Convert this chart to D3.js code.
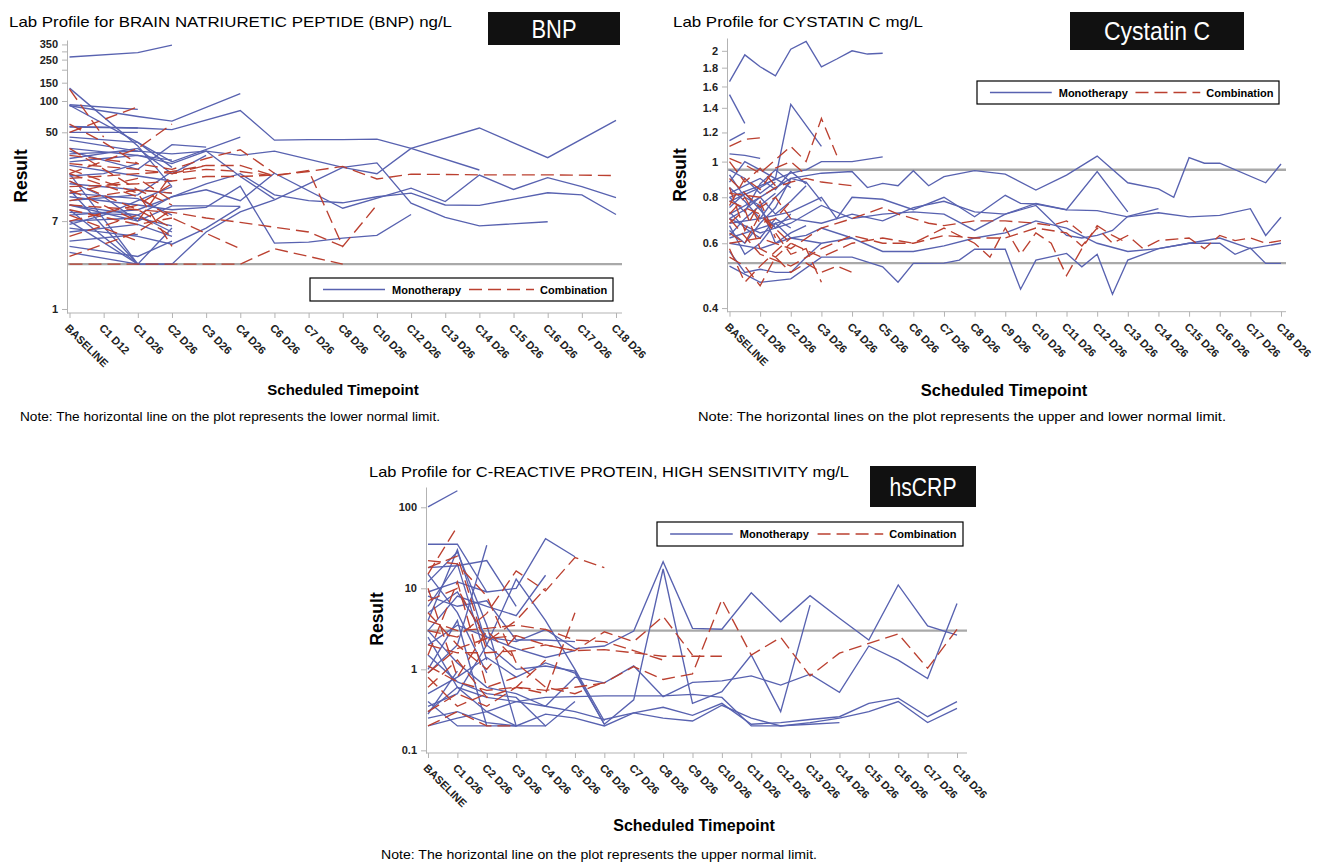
<!DOCTYPE html>
<meta charset="utf-8">
<style>
    body { margin: 0; background: #fff; }
    text { font-family: "Liberation Sans", Arial, sans-serif; }
</style>
<body>
<script src="https://cdn.jsdelivr.net/npm/d3@7/dist/d3.min.js"></script>
<script>

    // ---------- BNP ----------
    var bnpCats = ["BASELINE", "C1 D12", "C1 D26", "C2 D26", "C3 D26", "C4 D26", "C6 D26", "C7 D26", "C8 D26",
        "C10 D26", "C12 D26", "C13 D26", "C14 D26", "C15 D26", "C16 D26", "C17 D26", "C18 D26"];
    var bnpTicks = [1, 7, 50, 100, 150, 200, 250, 300, 350];
    var bnpTickText = ["1", "7", "50", "100", "150", "", "250", "", "350"];
    var bnpLimits = [2.7];

    // each subject: [timepoint index, value]
    var bnpMono = [
        [[0, 265], [2, 292], [3, 345]],
        [[0, 90], [2, 71], [3, 64], [5, 118]],
        [[0, 57], [2, 55], [3, 53], [5, 81], [6, 42], [7, 42.5], [8, 42.5], [9, 43], [10, 35], [12, 21.7]],
        [[0, 31], [2, 33], [3, 31], [4, 33], [5, 30], [6, 33], [8, 23], [9, 20], [10, 35], [12, 55], [14, 28.5], [16, 65]],
        [[0, 92], [2, 83]],
        [[0, 133], [2, 37], [3, 15]],
        [[0, 91], [2, 40], [3, 23]],
        [[0, 56], [2, 55]],
        [[0, 45], [2, 40], [3, 26], [5, 45]],
        [[0, 28], [2, 35], [3, 20], [4, 30]],
        [[0, 7], [2, 2.7], [3, 2.7], [4, 5.5], [5, 8.6], [6, 11.2], [7, 16], [8, 23], [9, 25.4], [10, 10.4], [11, 7.6], [12, 6.3], [14, 6.9]],
        [[0, 12], [2, 10], [3, 9], [4, 9.5], [5, 15.2], [6, 4.3], [7, 4.4], [8, 4.8], [9, 5.1], [10, 8.1]],
        [[0, 10], [2, 8], [3, 12], [4, 14], [5, 11], [6, 20.2], [8, 9.3], [10, 14.5], [11, 10.8], [12, 19.4], [13, 14.1], [14, 18.3], [15, 15], [16, 11.8]],
        [[0, 8], [2, 9], [3, 12], [4, 16], [5, 20], [6, 12.5], [7, 11], [8, 10.5], [9, 12], [10, 13], [11, 10], [12, 9.9], [14, 13.1], [15, 12.5], [16, 8.1]],
        [[0, 35], [2, 30], [3, 25], [4, 33], [5, 18.8], [6, 11.4]],
        [[0, 6], [2, 5], [3, 4.2], [4, 6], [5, 9.6]],
        [[0, 14], [2, 2.7], [3, 2.7]],
        [[0, 20], [2, 2.7]],
        [[0, 9], [2, 2.7], [3, 6]],
        [[0, 10], [2, 7], [3, 9.8], [4, 9.8], [5, 9.7]],
        [[0, 7], [2, 7.5], [3, 6.3]],
        [[0, 5.5], [2, 6.5], [3, 5]],
        [[0, 4.5], [2, 5.2]],
        [[0, 3.5], [2, 2.7]],
        [[0, 24], [2, 19], [3, 17]],
        [[0, 16], [2, 14], [3, 13]],
        [[0, 13], [2, 11.5], [3, 8]],
        [[0, 11], [2, 12.5], [3, 21]],
        [[0, 8.5], [2, 8], [3, 5.5]],
        [[0, 26], [1, 28], [2, 30], [3, 27]],
        [[0, 19], [1, 20], [2, 25]],
        [[0, 50], [2, 50]],
        [[0, 42], [2, 33]],
        [[0, 6.5], [1, 8], [2, 11], [3, 15]],
        [[0, 17], [1, 12], [2, 7]],
        [[0, 4], [2, 3.2], [3, 4.5]],
        [[0, 33], [2, 22], [3, 38], [4, 36]]
    ];
    var bnpCombo = [
        [[0, 15], [2, 16], [3, 17], [4, 18.8], [5, 18.8], [6, 19.4], [7, 21], [8, 23.5], [9, 17.8], [10, 19.8], [12, 19.5], [14, 19.5], [16, 19.2]],
        [[0, 25], [2, 22], [3, 20], [4, 22], [5, 21], [6, 19], [7, 21.5], [8, 4.0], [9, 10]],
        [[0, 10], [2, 9], [3, 8.5], [4, 7.5], [5, 6.8], [7, 5.5], [8, 4.0]],
        [[0, 2.7], [2, 2.7], [3, 2.7], [4, 2.7], [5, 2.7], [6, 3.8], [8, 2.7]],
        [[0, 20], [2, 12], [3, 7.5], [5, 3.8]],
        [[0, 30], [2, 25], [3, 22], [4, 28], [5, 34], [6, 20.2]],
        [[0, 18], [2, 20], [3, 21], [4, 24], [5, 24], [6, 19]],
        [[0, 50], [2, 88]],
        [[0, 20], [2, 35], [3, 60]],
        [[0, 130], [1, 45]],
        [[0, 11], [2, 14], [3, 13]],
        [[0, 17], [2, 9], [3, 6]],
        [[0, 22], [2, 13], [3, 4]],
        [[0, 9], [2, 6.5], [3, 7.5]],
        [[0, 13], [2, 18], [3, 11]],
        [[0, 7], [2, 10], [3, 16]],
        [[0, 5], [2, 8], [3, 5]],
        [[0, 3.2], [2, 5.5], [3, 9]],
        [[0, 35], [2, 14], [3, 10]],
        [[0, 14], [2, 7], [3, 20], [4, 24]],
        [[0, 60], [1, 40], [2, 25]],
        [[0, 8], [1, 6], [2, 4.5]]
    ];

    // ---------- Cystatin C ----------
    var cysCats = ["BASELINE", "C1 D12", "C1 D26", "C2 D12", "C2 D26", "C3 D12", "C3 D26", "C4 D12", "C4 D26",
        "C5 D12", "C5 D26", "C6 D12", "C6 D26", "C7 D12", "C7 D26", "C8 D12", "C8 D26", "C9 D12", "C9 D26",
        "C10 D12", "C10 D26", "C11 D12", "C11 D26", "C12 D12", "C12 D26", "C13 D12", "C13 D26", "C14 D12", "C14 D26",
        "C15 D12", "C15 D26", "C16 D12", "C16 D26", "C17 D12", "C17 D26", "C18 D12", "C18 D26"];
    var cysLabels = ["BASELINE", "C1 D26", "C2 D26", "C3 D26", "C4 D26", "C5 D26", "C6 D26", "C7 D26", "C8 D26", "C9 D26",
        "C10 D26", "C11 D26", "C12 D26", "C13 D26", "C14 D26", "C15 D26", "C16 D26", "C17 D26", "C18 D26"];
    var cysTicks = [0.4, 0.6, 0.8, 1, 1.2, 1.4, 1.6, 1.8, 2];
    var cysTickText = ["0.4", "0.6", "0.8", "1", "1.2", "1.4", "1.6", "1.8", "2"];
    var cysLimits = [0.95, 0.53];

    var cysMono = [
        [[0, 1.65], [1, 1.95], [2, 1.81], [3, 1.71], [4, 2.02], [5, 2.12], [6, 1.81], [7, 1.9], [8, 2.0], [9, 1.96], [10, 1.97]],
        [[0, 1.52], [1, 1.27]],
        [[0, 1.14], [1, 1.2]],
        [[0, 0.78], [2, 0.85], [3, 0.9], [4, 1.43], [6, 1.1]],
        [[0, 0.8], [2, 0.86], [4, 0.93], [5, 0.95], [6, 1.0], [8, 1.0], [10, 1.03]],
        [[0, 0.72], [2, 0.8], [4, 0.9], [6, 0.93], [8, 0.94], [9, 0.85], [10, 0.873], [11, 0.86], [12, 0.945], [13, 0.86], [14, 0.91], [16, 0.945], [18, 0.925], [20, 0.837], [22, 0.919], [24, 1.035], [26, 0.876], [28, 0.843], [29, 0.8], [30, 1.025], [31, 0.99], [32, 0.99], [35, 0.876], [36, 0.985]],
        [[0, 0.68], [2, 0.7], [4, 0.73], [6, 0.8], [7, 0.7], [8, 0.8], [10, 0.79], [12, 0.74], [14, 0.8], [16, 0.708], [18, 0.81], [19, 0.77], [20, 0.767], [22, 0.739], [24, 0.736], [26, 0.708], [28, 0.726], [30, 0.708], [32, 0.714], [34, 0.745], [35, 0.63], [36, 0.706]],
        [[0, 0.62], [2, 0.66], [4, 0.7], [6, 0.68], [8, 0.72], [10, 0.69], [12, 0.75], [14, 0.78], [16, 0.73], [18, 0.72], [20, 0.76], [22, 0.63], [23, 0.62], [24, 0.63], [25, 0.65], [26, 0.71], [28, 0.745]],
        [[0, 0.7], [2, 0.64], [4, 0.68], [6, 0.76], [8, 0.7], [10, 0.72], [12, 0.73], [14, 0.72], [16, 0.65], [18, 0.72], [20, 0.77], [22, 0.74], [24, 0.94], [26, 0.73]],
        [[0, 0.52], [2, 0.47], [4, 0.48], [6, 0.55], [8, 0.55], [10, 0.518], [11, 0.47], [12, 0.529], [14, 0.53], [15, 0.54], [16, 0.578], [18, 0.578], [19, 0.45], [20, 0.54], [22, 0.563], [23, 0.518], [24, 0.56], [25, 0.436], [26, 0.54], [28, 0.58], [30, 0.6], [32, 0.6], [33, 0.56], [34, 0.582], [35, 0.529], [36, 0.529]],
        [[0, 0.6], [2, 0.58], [4, 0.62], [6, 0.6], [8, 0.62], [10, 0.57], [12, 0.57], [14, 0.59], [16, 0.62], [18, 0.64], [20, 0.69], [22, 0.66], [24, 0.6], [26, 0.57], [28, 0.58], [30, 0.6], [32, 0.62], [34, 0.58], [36, 0.6]],
        [[0, 0.95], [1, 0.9], [2, 0.82], [3, 0.88]],
        [[0, 0.85], [1, 0.78], [2, 0.7], [3, 0.8], [4, 0.88]],
        [[0, 0.75], [1, 0.82], [2, 0.74], [3, 0.66], [4, 0.72]],
        [[0, 0.65], [1, 0.6], [2, 0.68], [3, 0.75], [4, 0.9], [5, 0.88], [6, 0.78]],
        [[0, 0.88], [1, 1.0], [2, 0.95], [4, 0.85]],
        [[0, 0.57], [1, 0.5], [2, 0.51], [3, 0.5], [4, 0.5], [5, 0.55], [6, 0.6]],
        [[0, 0.7], [1, 0.74], [2, 0.8], [3, 0.72], [4, 0.78], [5, 0.86]],
        [[0, 0.82], [1, 0.86], [2, 0.9], [3, 0.84], [4, 0.94], [5, 0.87]],
        [[0, 0.73], [1, 0.66], [2, 0.62], [3, 0.7], [4, 0.66]],
        [[0, 0.92], [1, 0.8], [2, 0.76], [3, 0.82]],
        [[0, 0.63], [1, 0.7], [2, 0.76], [3, 0.6], [4, 0.64], [5, 0.67]],
        [[0, 1.05], [1, 1.04], [2, 1.02]],
        [[0, 0.8], [1, 0.73], [2, 0.87], [3, 0.95], [4, 0.88]],
        [[0, 0.67], [1, 0.56], [2, 0.6], [3, 0.68], [4, 0.62], [5, 0.63], [6, 0.66], [8, 0.62]]
    ];
    var cysCombo = [
        [[0, 1.02], [1, 0.98], [2, 0.93], [4, 1.1], [5, 1.0], [6, 1.31], [7, 1.04]],
        [[0, 1.1], [1, 1.15], [2, 1.16]],
        [[0, 0.82], [2, 0.8], [3, 0.85], [4, 0.88], [5, 0.9], [6, 0.88], [8, 0.86]],
        [[0, 0.6], [2, 0.62], [4, 0.58], [6, 0.66], [8, 0.7], [10, 0.75], [11, 0.72], [12, 0.7], [13, 0.68], [14, 0.67], [16, 0.69], [18, 0.69], [20, 0.68], [21, 0.67], [22, 0.69], [23, 0.64]],
        [[0, 0.7], [2, 0.56], [4, 0.52], [6, 0.58], [8, 0.63], [10, 0.6], [12, 0.6], [14, 0.63], [16, 0.62], [18, 0.62], [20, 0.66], [22, 0.64], [23, 0.59], [24, 0.66], [25, 0.6], [26, 0.63], [27, 0.58], [28, 0.61], [30, 0.62], [31, 0.58], [32, 0.63], [33, 0.61], [34, 0.62], [35, 0.6], [36, 0.61]],
        [[0, 0.78], [2, 0.72], [4, 0.6], [6, 0.55], [8, 0.6], [10, 0.62], [12, 0.6], [14, 0.66], [16, 0.6], [17, 0.55], [18, 0.66], [19, 0.56], [20, 0.64], [21, 0.6], [22, 0.49], [23, 0.58], [24, 0.67], [25, 0.63], [26, 0.6]],
        [[0, 0.9], [1, 0.82], [2, 0.75], [3, 0.8], [4, 0.7]],
        [[0, 0.85], [1, 0.65], [2, 0.78], [3, 0.62]],
        [[0, 0.68], [1, 0.74], [2, 0.58], [3, 0.55], [4, 0.6]],
        [[0, 0.58], [1, 0.47], [2, 0.52], [3, 0.57], [4, 0.62]],
        [[0, 0.76], [1, 0.9], [2, 0.84], [3, 0.96], [4, 1.0], [5, 0.92]],
        [[0, 0.55], [1, 0.52], [2, 0.46], [3, 0.55], [4, 0.5], [5, 0.53], [6, 0.5], [7, 0.52], [8, 0.5]],
        [[0, 0.72], [1, 0.8], [2, 0.68], [3, 0.7], [4, 0.78]],
        [[0, 0.64], [1, 0.6], [2, 0.72], [3, 0.64], [4, 0.56], [5, 0.58], [6, 0.47]],
        [[0, 1.0], [1, 0.88], [2, 0.96], [3, 0.86]]
    ];

    // ---------- hsCRP ----------
    var crpCats = ["BASELINE", "C1 D26", "C2 D26", "C3 D26", "C4 D26", "C5 D26", "C6 D26", "C7 D26", "C8 D26", "C9 D26",
        "C10 D26", "C11 D26", "C12 D26", "C13 D26", "C14 D26", "C15 D26", "C16 D26", "C17 D26", "C18 D26"];
    var crpTicks = [0.1, 1, 10, 100];
    var crpTickText = ["0.1", "1", "10", "100"];
    var crpLimits = [3];

    var crpMono = [
        [[0, 101], [1, 160]],
        [[0, 2], [1, 3.5], [2, 2.5], [3, 2.2], [4, 3.1], [5, 1.8], [6, 1.94], [7, 2.97], [8, 21.3], [9, 3.2], [10, 3.12], [11, 8.8], [12, 3.87], [13, 8.1], [14, 4.26], [15, 2.3], [16, 11], [17, 3.43], [18, 2.65]],
        [[0, 0.5], [1, 0.8], [2, 1.4], [3, 0.8], [4, 1.2], [5, 0.9], [6, 0.21], [7, 0.42], [8, 17.3], [9, 0.38], [10, 0.53], [11, 1.5], [12, 0.3], [13, 6.2]],
        [[0, 0.2], [1, 0.25], [2, 0.3], [3, 0.4], [4, 0.45], [5, 0.46], [6, 0.47], [7, 0.47], [8, 0.47], [9, 0.49], [10, 0.45], [11, 0.2], [12, 0.2], [13, 0.21], [14, 0.22]],
        [[0, 3], [1, 1.2], [2, 0.6], [3, 0.5], [4, 0.35], [5, 0.8], [6, 0.68], [7, 1.1], [8, 0.46], [9, 0.69], [10, 0.72], [11, 0.83], [12, 0.64], [13, 0.87], [14, 0.52], [15, 1.94], [16, 1.3], [17, 0.77], [18, 6.5]],
        [[0, 0.3], [1, 0.6], [2, 0.45], [3, 0.4], [4, 0.35], [5, 0.3], [6, 0.24], [7, 0.29], [8, 0.34], [9, 0.27], [10, 0.38], [11, 0.21], [12, 0.22], [13, 0.24], [14, 0.26], [15, 0.38], [16, 0.44], [17, 0.26], [18, 0.4]],
        [[0, 0.25], [1, 0.3], [2, 0.22], [3, 0.2], [4, 0.28], [5, 0.25], [6, 0.2], [7, 0.29], [8, 0.25], [9, 0.23], [10, 0.36], [11, 0.25], [12, 0.2], [13, 0.22], [14, 0.25], [15, 0.3], [16, 0.4], [17, 0.22], [18, 0.33]],
        [[0, 9], [1, 12], [2, 9], [3, 10], [4, 41], [5, 24.5]],
        [[0, 3], [1, 8], [2, 6], [3, 4.6], [4, 14.5]],
        [[0, 35], [1, 35], [2, 9]],
        [[0, 18], [1, 19], [2, 22], [3, 6]],
        [[0, 12], [1, 28], [2, 3.5], [3, 0.2], [4, 0.2]],
        [[0, 4], [1, 30], [2, 2], [3, 13], [4, 4], [5, 1.0], [6, 0.23]],
        [[0, 0.9], [1, 2], [2, 34]],
        [[0, 8], [1, 6], [2, 7], [3, 2.3], [4, 2.3], [5, 2.2]],
        [[0, 1.5], [1, 0.7], [2, 0.5], [3, 0.45], [4, 0.2], [5, 0.4]],
        [[0, 0.35], [1, 0.5], [2, 2.0], [3, 1.0], [4, 1.1], [5, 0.95], [6, 0.21]],
        [[0, 5], [1, 9], [2, 2.5], [3, 1.8], [4, 1.4], [5, 1.7]],
        [[0, 2.5], [1, 0.6], [2, 0.3], [3, 0.2]],
        [[0, 1], [1, 4], [2, 0.2]],
        [[0, 0.4], [1, 0.2], [2, 0.2], [3, 0.2]],
        [[0, 0.28], [1, 0.95]],
        [[0, 15], [1, 5], [2, 0.9]],
        [[0, 6], [1, 20], [2, 1.3]]
    ];
    var crpCombo = [
        [[0, 15], [1, 58]],
        [[0, 3], [1, 2.5], [2, 4.9], [3, 16.4], [4, 9.3], [5, 24], [6, 18]],
        [[0, 1.1], [1, 0.7], [2, 0.55], [3, 0.6], [4, 0.55], [5, 0.6], [6, 0.68], [7, 1.08], [8, 0.75], [9, 0.88], [10, 7.3], [11, 1.5], [12, 2.48], [13, 0.83], [14, 1.58], [15, 2.09], [16, 2.73], [17, 1.03], [18, 3.12]],
        [[0, 0.9], [1, 1.8], [2, 2.4], [3, 2.6], [4, 2.0], [5, 1.7], [6, 2.9], [7, 2.2], [8, 4.5], [9, 1.5]],
        [[0, 2], [1, 1.6], [2, 1.6], [3, 1.7], [4, 2.0], [5, 1.7], [6, 1.75], [7, 1.6], [8, 1.45], [9, 1.45], [10, 1.45]],
        [[0, 4], [1, 3], [2, 3.2], [3, 3.5], [4, 3.1], [5, 2.3], [6, 2.2], [7, 1.7], [8, 1.3]],
        [[0, 0.3], [1, 0.5], [2, 0.35], [3, 0.6], [4, 0.5], [5, 5]],
        [[0, 7], [1, 10], [2, 2.2], [3, 4], [4, 10]],
        [[0, 22], [1, 20], [2, 8], [3, 1.2], [4, 0.6], [5, 0.5], [6, 0.7]],
        [[0, 0.2], [1, 0.3], [2, 0.2], [3, 0.2]],
        [[0, 1.5], [1, 12], [2, 0.6], [3, 0.8]],
        [[0, 10], [1, 0.8], [2, 3], [3, 1.3]],
        [[0, 18], [1, 25], [2, 1.7]],
        [[0, 0.6], [1, 1.3], [2, 0.45], [3, 0.6], [4, 1.3]],
        [[0, 5], [1, 2], [2, 1.0], [3, 2.6]],
        [[0, 0.8], [1, 0.35], [2, 0.5]]
    ];

    var blue = "#5862b0", red = "#bb4030", gridGray = "#a9a9a9", axisGray = "#b3b3b3";
    var dash = "13,6";

    var svg = d3.select("body").append("svg")
        .attr("width", 1321)
        .attr("height", 863);

    function drawPanel(p) {
        var g = svg.append("g");

        var x = d3.scalePoint().domain(p.cats).range(p.xr);
        var y = d3.scaleLog().domain(p.yd).range(p.yr);

        // normal limit lines
        g.selectAll(".ref").data(p.limits).enter().append("line")
            .attr("x1", p.axisX).attr("x2", p.axisRight)
            .attr("y1", y).attr("y2", y)
            .attr("stroke", gridGray).attr("stroke-width", 2.4);

        var line = d3.line()
            .x(function (d) { return x(p.cats[d[0]]); })
            .y(function (d) { return y(d[1]); });

        g.append("g").selectAll("path").data(p.mono).enter().append("path")
            .attr("d", line).attr("fill", "none")
            .attr("stroke", blue).attr("stroke-width", 1.35);

        g.append("g").selectAll("path").data(p.combo).enter().append("path")
            .attr("d", line).attr("fill", "none")
            .attr("stroke", red).attr("stroke-width", 1.35)
            .attr("stroke-dasharray", dash);

        // y axis
        var ya = g.append("g")
            .attr("transform", "translate(" + p.axisX + ",0)")
            .call(d3.axisLeft(y).tickValues(p.ticks)
                .tickFormat(function (d, i) { return p.tickText[i]; })
                .tickSize(5).tickPadding(4).tickSizeOuter(0));
        ya.select(".domain").attr("stroke", axisGray);
        ya.selectAll(".tick line").attr("stroke", axisGray);
        ya.selectAll("text").attr("font-size", 11).attr("font-weight", "bold").attr("fill", "#222")
            .attr("font-family", "Liberation Sans, Arial, sans-serif");

        // x axis
        var xa = g.append("g")
            .attr("transform", "translate(0," + p.axisY + ")")
            .call(d3.axisBottom(x).tickValues(p.labels).tickSize(5).tickSizeOuter(0));
        xa.select(".domain").remove();
        xa.append("line").attr("x1", p.axisX).attr("x2", p.axisRight)
            .attr("stroke", axisGray);
        xa.selectAll(".tick line").attr("stroke", axisGray);
        xa.selectAll("text")
            .attr("font-size", 11).attr("font-weight", "bold").attr("fill", "#222")
            .attr("font-family", "Liberation Sans, Arial, sans-serif")
            .attr("text-anchor", "start")
            .attr("x", 0).attr("y", 0).attr("dy", "0.35em")
            .attr("transform", "translate(-3,13) rotate(45)");

        // axis titles
        g.append("text")
            .attr("transform", "translate(" + p.resX + "," + p.resY + ") rotate(-90)")
            .attr("text-anchor", "middle")
            .attr("font-size", 17.5).attr("font-weight", "bold")
            .text("Result");

        g.append("text")
            .attr("x", p.stX).attr("y", p.stY)
            .attr("text-anchor", "middle")
            .attr("font-size", p.stSize).attr("font-weight", "bold")
            .text("Scheduled Timepoint");

        // title
        g.append("text")
            .attr("x", p.titleX).attr("y", p.titleY)
            .attr("font-size", 15)
            .attr("textLength", p.titleW).attr("lengthAdjust", "spacingAndGlyphs")
            .text(p.title);

        // black tag
        g.append("rect")
            .attr("x", p.tag[0]).attr("y", p.tag[1])
            .attr("width", p.tag[2]).attr("height", p.tag[3])
            .attr("fill", "#111");
        g.append("text")
            .attr("x", p.tag[0] + p.tag[2] / 2).attr("y", p.tag[1] + p.tag[3] / 2)
            .attr("dy", "0.36em")
            .attr("text-anchor", "middle")
            .attr("fill", "#fff")
            .attr("font-family", "Lato, 'Open Sans', sans-serif")
            .attr("font-size", 25)
            .attr("textLength", p.tagTextW).attr("lengthAdjust", "spacingAndGlyphs")
            .text(p.tagText);

        // legend
        var L = p.legend, k = L[2] / 303, my = L[1] + L[3] / 2;
        var lg = g.append("g");
        lg.append("rect").attr("x", L[0]).attr("y", L[1]).attr("width", L[2]).attr("height", L[3])
            .attr("fill", "#fff").attr("stroke", "#000").attr("stroke-width", 1.2);
        lg.append("line").attr("x1", L[0] + 13 * k).attr("x2", L[0] + 75 * k)
            .attr("y1", my).attr("y2", my).attr("stroke", blue).attr("stroke-width", 1.35);
        lg.append("text").attr("x", L[0] + 82 * k).attr("y", my + 4)
            .attr("font-size", 11).attr("font-weight", "bold").text("Monotherapy");
        lg.append("line").attr("x1", L[0] + 159 * k).attr("x2", L[0] + 224 * k)
            .attr("y1", my).attr("y2", my).attr("stroke", red).attr("stroke-width", 1.35)
            .attr("stroke-dasharray", dash);
        lg.append("text").attr("x", L[0] + 230 * k).attr("y", my + 4)
            .attr("font-size", 11).attr("font-weight", "bold").text("Combination");

        // note
        g.append("text")
            .attr("x", p.noteX).attr("y", p.noteY)
            .attr("font-size", 12)
            .attr("textLength", p.noteW).attr("lengthAdjust", "spacingAndGlyphs")
            .text(p.note);
    }

    drawPanel({
        cats: bnpCats, labels: bnpCats, mono: bnpMono, combo: bnpCombo, limits: bnpLimits,
        ticks: bnpTicks, tickText: bnpTickText,
        xr: [69.5, 616], yd: [0.915, 386], yr: [313, 40],
        axisX: 67, axisRight: 622, axisY: 313,
        resX: 27, resY: 176, stX: 343, stY: 395, stSize: 15,
        title: "Lab Profile for BRAIN NATRIURETIC PEPTIDE (BNP) ng/L", titleX: 9, titleY: 27, titleW: 443,
        tag: [488, 12, 132, 33], tagText: "BNP", tagTextW: 45,
        legend: [310, 278, 303, 23],
        note: "Note: The horizontal line on the plot represents the lower normal limit.", noteX: 20, noteY: 421, noteW: 420
    });

    drawPanel({
        cats: cysCats, labels: cysLabels, mono: cysMono, combo: cysCombo, limits: cysLimits,
        ticks: cysTicks, tickText: cysTickText,
        xr: [729.5, 1281], yd: [0.391, 2.167], yr: [311.7, 38],
        axisX: 727, axisRight: 1286, axisY: 311.7,
        resX: 686, resY: 175, stX: 1004, stY: 396, stSize: 16.5,
        title: "Lab Profile for CYSTATIN C mg/L", titleX: 673, titleY: 27, titleW: 250,
        tag: [1070, 12, 174, 38], tagText: "Cystatin C", tagTextW: 106,
        legend: [977, 81, 302, 23],
        note: "Note: The horizontal lines on the plot represents the upper and lower normal limit.", noteX: 698, noteY: 421, noteW: 528
    });

    drawPanel({
        cats: crpCats, labels: crpCats, mono: crpMono, combo: crpCombo, limits: crpLimits,
        ticks: crpTicks, tickText: crpTickText,
        xr: [428, 957], yd: [0.0927, 178], yr: [753, 487],
        axisX: 426, axisRight: 967, axisY: 753,
        resX: 383, resY: 619, stX: 694, stY: 831, stSize: 16,
        title: "Lab Profile for C-REACTIVE PROTEIN, HIGH SENSITIVITY mg/L", titleX: 369, titleY: 477, titleW: 480,
        tag: [870, 466, 106, 41], tagText: "hsCRP", tagTextW: 67,
        legend: [657, 522, 306, 24],
        note: "Note: The horizontal line on the plot represents the upper normal limit.", noteX: 381, noteY: 859, noteW: 436
    });
</script>
</body>
